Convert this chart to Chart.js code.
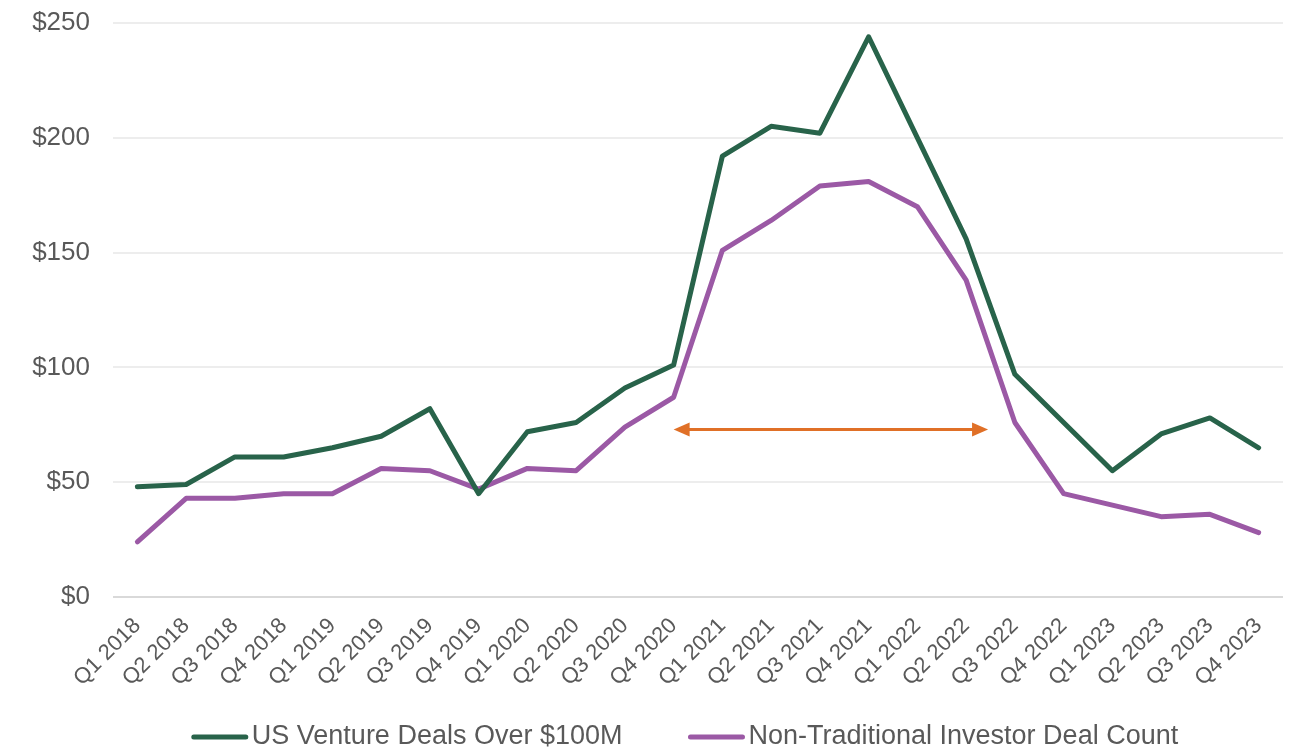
<html>
    <head>
        <script src="https://cdn.jsdelivr.net/npm/chart.js@4.4.0/dist/chart.umd.min.js"></script>
        <style>
            body { margin: 0; background: #fff; }
        </style>
    </head>
    <body>
        <canvas id="myChart" width="1301" height="748"></canvas>

        <script>
            // quarters on the x axis
            var labels = ['Q1 2018','Q2 2018','Q3 2018','Q4 2018','Q1 2019','Q2 2019','Q3 2019','Q4 2019',
                          'Q1 2020','Q2 2020','Q3 2020','Q4 2020','Q1 2021','Q2 2021','Q3 2021','Q4 2021',
                          'Q1 2022','Q2 2022','Q3 2022','Q4 2022','Q1 2023','Q2 2023','Q3 2023','Q4 2023'];

            var dealsOver100M = [48, 49, 61, 61, 65, 70, 82, 45, 72, 76, 91, 101,
                                 192, 205, 202, 244, 200, 156, 97, 76, 55, 71, 78, 65];
            var nonTraditional = [24, 43, 43, 45, 45, 56, 55, 47, 56, 55, 74, 87,
                                  151, 164, 179, 181, 170, 138, 76, 45, 40, 35, 36, 28];

            var yTicks = [0, 50, 100, 150, 200, 250];

            // orange double arrow (category index from/to, value)
            var arrowFrom = 11;
            var arrowTo = 17.45;
            var arrowValue = 73;

            var textColor = '#595959';
            var fontFamily = 'Liberation Sans, Arial';

            var arrow = {
                id: 'arrow',
                afterDatasetsDraw: function(chart) {
                    var c = chart.ctx;
                    var x1 = chart.scales.x.getPixelForValue(arrowFrom);
                    var x2 = chart.scales.x.getPixelForValue(arrowTo);
                    var y = chart.scales.y.getPixelForValue(arrowValue);
                    c.save();
                    c.strokeStyle = '#E07027';
                    c.fillStyle = '#E07027';
                    c.lineWidth = 3;
                    c.beginPath();
                    c.moveTo(x1 + 10, y);
                    c.lineTo(x2 - 10, y);
                    c.stroke();
                    c.beginPath();
                    c.moveTo(x1, y);
                    c.lineTo(x1 + 16, y - 7);
                    c.lineTo(x1 + 16, y + 7);
                    c.closePath();
                    c.fill();
                    c.beginPath();
                    c.moveTo(x2, y);
                    c.lineTo(x2 - 16, y - 7);
                    c.lineTo(x2 - 16, y + 7);
                    c.closePath();
                    c.fill();
                    c.restore();
                }
            };

            // legend drawn at the bottom, line + text per dataset
            var bottomLegend = {
                id: 'bottomLegend',
                afterDraw: function(chart) {
                    var c = chart.ctx;
                    var sets = chart.data.datasets;
                    var lineLen = 56, textGap = 4, itemGap = 66;
                    c.save();
                    c.font = '27px ' + fontFamily;
                    var total = 0;
                    sets.forEach(function(ds, i) {
                        total += lineLen + textGap + c.measureText(ds.label).width + (i ? itemGap : 0);
                    });
                    var x = 685 - total / 2;
                    var y = 737;
                    sets.forEach(function(ds) {
                        c.strokeStyle = ds.borderColor;
                        c.lineWidth = 5;
                        c.lineCap = 'round';
                        c.beginPath();
                        c.moveTo(x + 2, y);
                        c.lineTo(x + lineLen - 2, y);
                        c.stroke();
                        x += lineLen + textGap;
                        c.fillStyle = textColor;
                        c.textBaseline = 'middle';
                        c.textAlign = 'left';
                        c.fillText(ds.label, x, y);
                        x += c.measureText(ds.label).width + itemGap;
                    });
                    c.restore();
                }
            };

            var ctx = document.getElementById('myChart').getContext('2d');
            var chart = new Chart(ctx, {
                type: 'line',
                data: {
                    labels: labels,
                    datasets: [{
                        label: 'US Venture Deals Over $100M',
                        data: dealsOver100M,
                        borderColor: '#28634A',
                        backgroundColor: '#28634A',
                        borderWidth: 5,
                        borderCapStyle: 'round',
                        borderJoinStyle: 'round',
                        pointRadius: 0,
                        tension: 0
                    }, {
                        label: 'Non-Traditional Investor Deal Count',
                        data: nonTraditional,
                        borderColor: '#9B59A5',
                        backgroundColor: '#9B59A5',
                        borderWidth: 5,
                        borderCapStyle: 'round',
                        borderJoinStyle: 'round',
                        pointRadius: 0,
                        tension: 0
                    }]
                },
                options: {
                    responsive: false,
                    animation: false,
                    layout: { padding: { top: 23, right: 18, left: 0, bottom: 51 } },
                    plugins: {
                        tooltip: { enabled: false },
                        legend: { display: false }
                    },
                    scales: {
                        x: {
                            offset: true,
                            grid: { display: false },
                            border: { display: false },
                            ticks: {
                                color: textColor,
                                font: { family: fontFamily, size: 22 },
                                maxRotation: 45,
                                minRotation: 45,
                                autoSkip: false,
                                padding: 8
                            },
                            afterFit: function(axis) {
                                axis.height = 100;
                                axis.paddingLeft = 0;
                                axis.paddingRight = 0;
                            }
                        },
                        y: {
                            min: 0,
                            max: 250,
                            afterBuildTicks: function(axis) {
                                axis.ticks = yTicks.map(function(v) { return { value: v }; });
                            },
                            grid: {
                                color: function(c) { return c.tick && c.tick.value === 0 ? '#D9D9D9' : '#EDEDED'; },
                                lineWidth: 2,
                                drawTicks: false
                            },
                            border: { display: false },
                            ticks: {
                                color: textColor,
                                font: { family: fontFamily, size: 26 },
                                padding: 23,
                                callback: function(v) { return '$' + v; }
                            },
                            afterFit: function(axis) {
                                axis.width = 113;
                                axis.paddingTop = 0;
                                axis.paddingBottom = 0;
                            }
                        }
                    }
                },
                plugins: [arrow, bottomLegend]
            });
        </script>
    </body>
</html>
